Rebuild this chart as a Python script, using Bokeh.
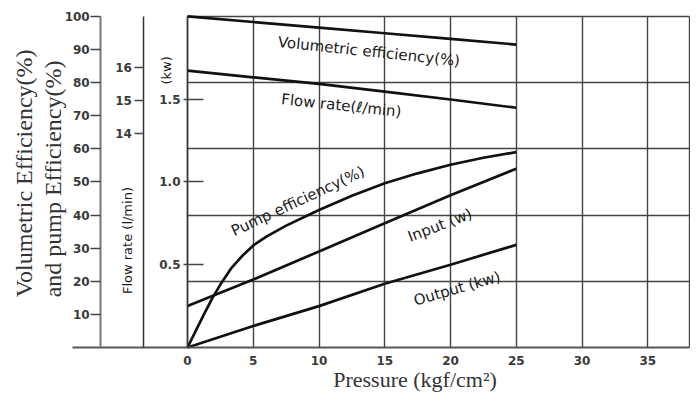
from bokeh.plotting import figure
from bokeh.models import Range1d, LinearAxis, FixedTicker, Grid, Label, PrintfTickFormatter
from bokeh.embed import file_html
from bokeh.resources import INLINE

# ---- data ----
pressure = [0, 5, 10, 15, 20, 25]
volumetric_eff = [100, 98.3, 96.6, 94.9, 93.2, 91.5]          # %
flow_rate = [15.9, 15.7, 15.5, 15.27, 15.03, 14.78]            # l/min
input_kw = [0.25, 0.41, 0.58, 0.75, 0.92, 1.08]                # kW
output_kw = [0.0, 0.13, 0.25, 0.385, 0.50, 0.62]               # kW
pump_pressure = [0, 0.75, 1.25, 1.9, 2.5, 3.3, 4.2, 5, 6, 7.5, 10, 12.5, 15, 17.5, 20, 22.5, 25]
pump_eff = [0, 6, 10, 15, 19, 23.8, 27.8, 30.8, 33.5, 36.8, 41.5, 45.8, 49.6, 52.6, 55.2, 57.3, 59]

pressure_ticks = [0, 5, 10, 15, 20, 25, 30, 35]
pct_ticks = [10, 20, 30, 40, 50, 60, 70, 80, 90, 100]
flow_ticks = [14, 15, 16]
kw_ticks = [0.5, 1.0, 1.5]
pct_grid = [20, 40, 60, 80, 100]

# ---- layout constants ----
X0, X1 = -14.22, 38.25
Y0, Y1 = -14.2, 104.8
P_RIGHT = 38.17
FLOW0 = 7.54

p = figure(width=690, height=394, x_range=Range1d(X0, X1), y_range=Range1d(Y0, Y1),
           x_axis_type=None, y_axis_type=None, output_backend="svg", toolbar_location=None,
           min_border_left=0, min_border_right=0, min_border_top=0, min_border_bottom=0)
p.outline_line_color = None
p.background_fill_color = "white"
p.border_fill_color = "white"
p.extra_y_ranges = {"flow": Range1d(FLOW0 + Y0 / 10.0, FLOW0 + Y1 / 10.0),
                    "kw": Range1d(Y0 / 50.0, Y1 / 50.0)}

GRID_COL = "#444444"
vgrid = Grid(dimension=0, ticker=FixedTicker(ticks=pressure_ticks + [P_RIGHT]),
             cross_bounds=(0, 100), grid_line_color=GRID_COL, grid_line_width=1.4)
hgrid = Grid(dimension=1, ticker=FixedTicker(ticks=pct_grid),
             cross_bounds=(0, P_RIGHT), grid_line_color=GRID_COL, grid_line_width=1.4)
p.add_layout(vgrid)
p.add_layout(hgrid)

FONT = "DejaVu Sans"

def style(ax, tick_out, tick_in, standoff):
    ax.major_label_text_font = FONT
    ax.major_label_text_font_size = "12px"
    ax.major_label_text_font_style = "bold"
    ax.major_label_text_color = "#3a3a3a"
    ax.major_tick_out = tick_out
    ax.major_tick_in = tick_in
    ax.major_tick_line_color = "#444444"
    ax.major_tick_line_width = 1.5
    ax.minor_tick_line_color = None
    ax.major_label_standoff = standoff

# x axis (at 0 %)
xax = LinearAxis(ticker=FixedTicker(ticks=pressure_ticks), bounds=(-8.75, P_RIGHT), fixed_location=0)
style(xax, 0, 0, 9)
xax.axis_line_color = "#555555"
xax.axis_line_width = 2
p.add_layout(xax, "below")

# kW axis (at pressure 0)
kax = LinearAxis(y_range_name="kw", ticker=FixedTicker(ticks=kw_ticks), fixed_location=0,
                 bounds=(0, 2.0), formatter=PrintfTickFormatter(format="%.1f"))
style(kax, 4, 16, 3)
kax.axis_line_color = "#333333"
kax.axis_line_width = 1.5
p.add_layout(kax, "left")

# flow-rate axis
fax = LinearAxis(y_range_name="flow", ticker=FixedTicker(ticks=flow_ticks), fixed_location=-3.32,
                 bounds=(FLOW0, FLOW0 + 10))
style(fax, 9, 0, 3)
fax.axis_line_color = "#333333"
fax.axis_line_width = 1.5
p.add_layout(fax, "left")

# percent axis
pax = LinearAxis(ticker=FixedTicker(ticks=pct_ticks), fixed_location=-6.6, bounds=(0, 100))
style(pax, 10, 0, 1)
pax.axis_line_color = "#777777"
pax.axis_line_width = 2
p.add_layout(pax, "left")

# ---- curves ----
LC = "#111111"
LW = 2.7
p.line(pressure, volumetric_eff, line_color=LC, line_width=LW)
p.line(pressure, flow_rate, y_range_name="flow", line_color=LC, line_width=LW)
p.line(pressure, input_kw, y_range_name="kw", line_color=LC, line_width=LW)
p.line(pressure, output_kw, y_range_name="kw", line_color=LC, line_width=LW)
p.line(pump_pressure, pump_eff, line_color=LC, line_width=LW)

# ---- curve labels ----
def lab(x, y, text, angle, size="15px", font=FONT, color="#1a1a1a"):
    p.add_layout(Label(x=x, y=y, text=text, angle=angle, angle_units="deg",
                       text_font=font, text_font_size=size, text_color=color,
                       text_align="center", text_baseline="middle"))

lab(13.8, 89.4, "Volumetric efficiency(%)", -6)
lab(11.7, 73.1, "Flow rate(ℓ/min)", -6)
lab(8.4, 44.2, "Pump efficiency(%)", 25)
lab(19.2, 36.9, "Input (w)", 21)
lab(20.5, 17.8, "Output (kw)", 16)

# axis titles
lab(-1.6, 83.7, "(kw)", 90, size="13px")
lab(-4.56, 32.3, "Flow rate (l/min)", 90, size="13px")
SERIF = "Liberation Serif"
lab(-12.47, 52.6, "Volumetric Efficiency(%)", 90, size="24px", font=SERIF, color="#333333")
lab(-10.19, 50.9, "and pump Efficiency(%)", 90, size="24px", font=SERIF, color="#333333")
lab(17.3, -9.6, "Pressure (kgf/cm²)", 0, size="22px", font=SERIF, color="#333333")

open("out.html", "w").write(file_html(p, INLINE))
